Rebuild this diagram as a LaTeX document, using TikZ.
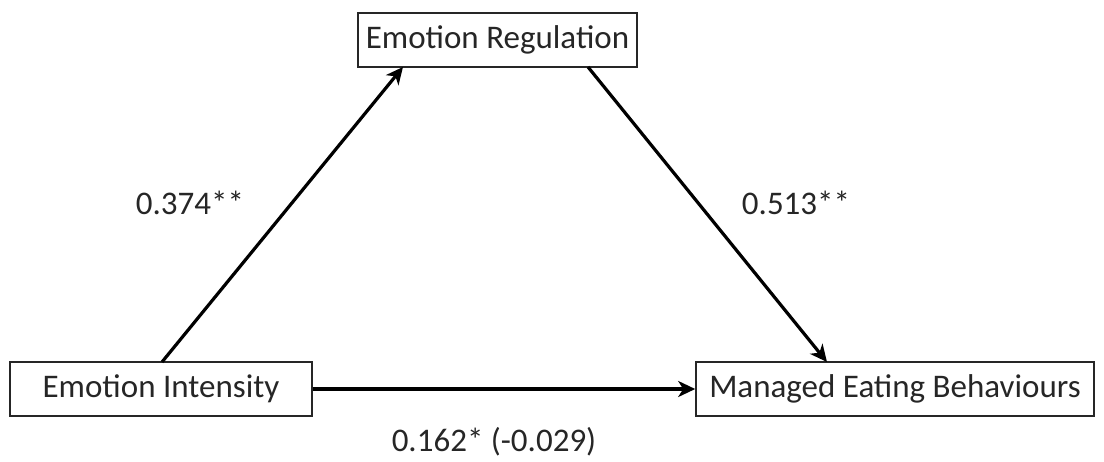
\documentclass[tikz,border=0pt]{standalone}
\usepackage{fontspec}
\setmainfont{Carlito}
\usetikzlibrary{arrows.meta}
\begin{document}
\begin{tikzpicture}[x=1pt,y=-1pt,
  box/.style={draw=black!85,line width=1.6pt,fill=white,inner sep=0pt,font=\fontsize{33}{40}\selectfont,text=black!85},
  conn/.style={line width=3.2pt,-{Stealth[length=17pt,width=16pt,inset=5pt]}},
  lbl/.style={font=\fontsize{33}{40}\selectfont,text=black!85}]
\useasboundingbox (0,0) rectangle (1104,461);
\node[box,minimum width=279pt,minimum height=54pt] (er) at (497.5,40) {Emotion Regulation};
\node[box,minimum width=302pt,minimum height=54pt] (ei) at (161,389) {Emotion Intensity};
\node[box,minimum width=398pt,minimum height=54pt] (me) at (895,389) {Managed Eating Behaviours};
\coordinate (a1s) at (162,362);
\coordinate (a1e) at (403,67);
\coordinate (a2s) at (588,67);
\coordinate (a2e) at (827,362);
\draw[conn] (a1s) -- (a1e);
\draw[conn] (a2s) -- (a2e);
\draw[conn] (ei.east) -- (me.west);
\node[lbl] (l1) at (190,203) {0.374**};
\node[lbl] (l2) at (796,203) {0.513**};
\node[lbl] (l3) at (494,442) {0.162* (-0.029)};
\end{tikzpicture}
\end{document}
